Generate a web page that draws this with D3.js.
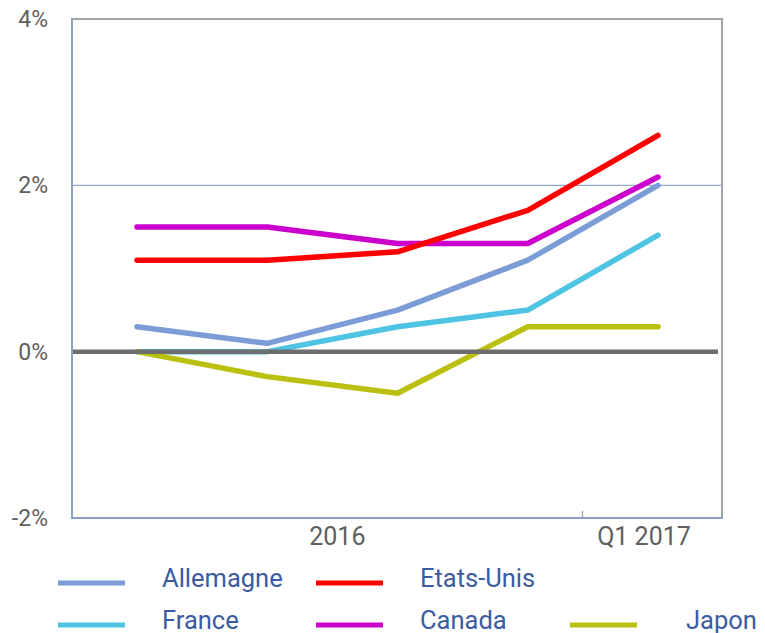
<!DOCTYPE html>
<html><head><meta charset="utf-8">
<script src="https://cdn.jsdelivr.net/npm/d3@7/dist/d3.min.js"></script>
<style>body{margin:0;background:#fff}svg{display:block;font-family:Roboto,"Noto Sans",sans-serif}</style>
</head><body><svg id="c" width="765" height="633"></svg>
<script>
const quarters = ["Q1 2016","Q2 2016","Q3 2016","Q4 2016","Q1 2017"];
const yTicks = [-2, 0, 2, 4];
const groupLabels = [{label:"2016", from:"Q1 2016", to:"Q4 2016"},{label:"Q1 2017", from:"Q1 2017", to:"Q1 2017"}];
const allemagne = [0.3, 0.1, 0.5, 1.1, 2.0];
const france    = [0.0, 0.0, 0.3, 0.5, 1.4];
const etatsUnis = [1.1, 1.1, 1.2, 1.7, 2.6];
const canada    = [1.5, 1.5, 1.3, 1.3, 2.1];
const japon     = [0.0, -0.3, -0.5, 0.3, 0.3];
const series = [
  {name:"Allemagne", values:allemagne, color:"#7b9cd6"},
  {name:"France", values:france, color:"#4fc4e2"},
  {name:"Canada", values:canada, color:"#cc00cc"},
  {name:"Etats-Unis", values:etatsUnis, color:"#ff0000"},
  {name:"Japon", values:japon, color:"#bac010"}
];
const legendOrder = ["Allemagne","Etats-Unis","France","Canada","Japon"];

const svg = d3.select("#c");
const L=72, R=722, T=19, B=518;
const x = d3.scalePoint().domain(quarters).range([137,658]);
const y = d3.scaleLinear().domain([-2,4]).range([B,T]);

svg.append("line").attr("x1",L).attr("x2",R).attr("y1",y(2)).attr("y2",y(2))
  .attr("stroke","#9aa8cc").attr("stroke-width",1.3);
svg.append("path").attr("d",`M${L},${y(4)}H${R}V${B}`).attr("fill","none")
  .attr("stroke","#a3a3ab").attr("stroke-width",2);
svg.append("line").attr("x1",L).attr("x2",L).attr("y1",T-1).attr("y2",B+1)
  .attr("stroke","#8d9fc6").attr("stroke-width",2);
svg.append("line").attr("x1",L-1).attr("x2",R+1).attr("y1",B).attr("y2",B)
  .attr("stroke","#8d9fc6").attr("stroke-width",2);
const step = x.step();
const sepX = x("Q4 2016") + step*0.42;
svg.append("line").attr("x1",sepX).attr("x2",sepX).attr("y1",B-7).attr("y2",B)
  .attr("stroke","#9aa0b0").attr("stroke-width",1.3);

svg.append("g").selectAll("text").data(yTicks).join("text")
  .attr("x",48).attr("y",d=>y(d)).attr("dy","0.35em").attr("text-anchor","end")
  .attr("fill","#5f5f5f").attr("font-size",23).text(d=>d+"%");

svg.append("g").selectAll("text").data(groupLabels).join("text")
  .attr("x",d=> d.label==="2016" ? (x(d.from)+x(d.to))/2+5 : x(d.from)-14)
  .attr("y",545).attr("text-anchor","middle").attr("fill","#5f5f5f")
  .attr("font-size",25).text(d=>d.label);

const line = d3.line().x((d,i)=>x(quarters[i])).y(d=>y(d));
svg.append("g").selectAll("path").data(series).join("path")
  .attr("d",d=>line(d.values)).attr("fill","none").attr("stroke",d=>d.color)
  .attr("stroke-width",5.5).attr("stroke-linecap","round").attr("stroke-linejoin","round");

svg.append("line").attr("x1",L+1).attr("x2",718).attr("y1",y(0)).attr("y2",y(0))
  .attr("stroke","#6e6e6e").attr("stroke-width",4.5);

const legPos = {
  "Allemagne":[58,583], "Etats-Unis":[316,583],
  "France":[58,625], "Canada":[316,625], "Japon":[570,625]
};
const lg = svg.append("g").selectAll("g").data(legendOrder.map(n=>series.find(s=>s.name===n))).join("g")
  .attr("transform",d=>`translate(${legPos[d.name][0]},${legPos[d.name][1]})`);
lg.append("line").attr("x1",0).attr("x2",67).attr("stroke",d=>d.color).attr("stroke-width",5);
lg.append("text").attr("x",d=>d.name==="Japon"?116:104).attr("y",-5).attr("dy","0.35em")
  .attr("fill","#3b5ca3").attr("font-size",25.5).text(d=>d.name);
</script></body></html>
